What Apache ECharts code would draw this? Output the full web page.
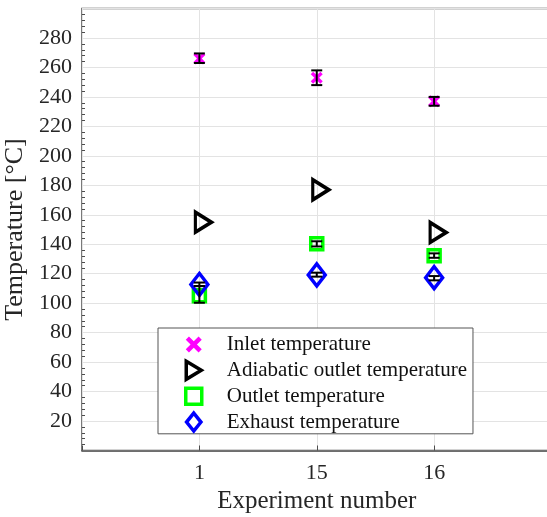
<!DOCTYPE html>
<html>
<head>
<meta charset="utf-8">
<script src="https://cdn.jsdelivr.net/npm/echarts@6/dist/echarts.min.js"></script>
<style>
  html, body { margin: 0; padding: 0; background: #fff; }
  #chart { width: 547px; height: 517px; }
</style>
</head>
<body>
<div id="chart"></div>
<script>
// experiment numbers; empty slots pad the axis on both sides
var categories = ['', '1', '15', '16', ''];
var experiments = ['1', '15', '16'];

var inletTemp = [266, 253, 237];
var inletLow = [263, 248, 234];
var inletHigh = [269.5, 258, 240];

var adiabaticTemp = [155, 177, 148];

var outletTemp = [105, 140.3, 132.2];
var outletLow = [100.3, 138.5, 130.8];
var outletHigh = [111.6, 142, 133.8];

var exhaustTemp = [112.7, 119.2, 117.3];
var exhaustLow = [111.6, 118, 115.5];
var exhaustHigh = [114, 120.7, 118.4];

var seriesNames = ['Inlet temperature', 'Adiabatic outlet temperature', 'Outlet temperature', 'Exhaust temperature'];

var font = 'Liberation Serif';
var xMark = 'path://M0,2 L2,0 L5,3 L8,0 L10,2 L7,5 L10,8 L8,10 L5,7 L2,10 L0,8 L3,5 Z';
var triRight = 'path://M0,0 L10,6 L0,12 Z';
var square = 'path://M0,0 L10,0 L10,10 L0,10 Z';
var diamond = 'path://M8,0 L16,10 L8,20 L0,10 Z';

function pts(vals) {
  return vals.map(function (v, i) { return [experiments[i], v]; });
}
function bars(lows, highs) {
  return lows.map(function (l, i) { return [experiments[i], l, highs[i]]; });
}

var errData = []
  .concat(bars(inletLow, inletHigh))
  .concat(bars(outletLow, outletHigh))
  .concat(bars(exhaustLow, exhaustHigh));

function renderErr(params, api) {
  var x = api.value(0);
  var lo = api.coord([x, api.value(1)]);
  var hi = api.coord([x, api.value(2)]);
  var cw = 5.5;
  var st = { stroke: '#000', lineWidth: 2 };
  return {
    type: 'group',
    children: [
      { type: 'line', shape: { x1: lo[0], y1: lo[1], x2: hi[0], y2: hi[1] }, style: st },
      { type: 'line', shape: { x1: lo[0] - cw, y1: lo[1], x2: lo[0] + cw, y2: lo[1] }, style: st },
      { type: 'line', shape: { x1: hi[0] - cw, y1: hi[1], x2: hi[0] + cw, y2: hi[1] }, style: st }
    ]
  };
}

var myChart = echarts.init(document.getElementById('chart'));

var option = {
  backgroundColor: '#fff',
  animation: false,
  textStyle: { fontFamily: font },
  grid: {
    left: 82,
    right: -4.5,
    top: 8.5,
    bottom: 66.5,
    outerBoundsMode: 'none',
    containLabel: false,
    show: true,
    borderColor: '#4d4d4d',
    borderWidth: 1.5
  },
  legend: {
    orient: 'vertical',
    left: 158,
    top: 328,
    data: [
      { name: seriesNames[0], icon: xMark, itemStyle: { color: '#ff00ff', borderWidth: 0, opacity: 1 } },
      { name: seriesNames[1], icon: triRight, itemStyle: { color: '#fff', borderColor: '#000', borderWidth: 3.5, opacity: 1 } },
      { name: seriesNames[2], icon: square, itemStyle: { color: '#fff', borderColor: '#00ff00', borderWidth: 3.5, opacity: 1 } },
      { name: seriesNames[3], icon: diamond, itemStyle: { color: '#fff', borderColor: '#0000ff', borderWidth: 3.5, opacity: 1 } }
    ],
    symbolKeepAspect: true,
    backgroundColor: '#fff',
    borderColor: '#555',
    borderWidth: 1,
    padding: [6, 6, 1, 26],
    itemGap: 4.6,
    itemWidth: 16,
    itemHeight: 18,
    textStyle: { fontFamily: font, fontSize: 21, lineHeight: 21, color: '#111', padding: [0, 0, 0, 20] }
  },
  xAxis: {
    type: 'category',
    data: categories,
    boundaryGap: false,
    name: 'Experiment number',
    nameLocation: 'middle',
    nameGap: 36,
    nameTextStyle: { fontFamily: font, fontSize: 25, color: '#262626' },
    axisLine: { lineStyle: { color: '#4d4d4d', width: 1.5 } },
    axisTick: { inside: true, length: 5, lineStyle: { color: '#4d4d4d' } },
    axisLabel: { fontFamily: font, fontSize: 22, color: '#262626', margin: 12 },
    splitLine: { show: true, lineStyle: { color: '#e3e3e3', width: 1 } }
  },
  yAxis: {
    type: 'value',
    min: 0,
    max: 300,
    interval: 20,
    name: 'Temperature [°C]',
    nameLocation: 'middle',
    nameGap: 43,
    nameTextStyle: { fontFamily: font, fontSize: 26, color: '#262626' },
    axisLine: { lineStyle: { color: '#4d4d4d', width: 1.5 } },
    axisTick: { inside: true, length: 5, lineStyle: { color: '#4d4d4d' } },
    minorTick: { show: true, splitNumber: 5, length: 3, lineStyle: { color: '#4d4d4d' } },
    axisLabel: {
      fontFamily: font, fontSize: 22, color: '#262626', margin: 10,
      formatter: function (v) { return (v === 0 || v === 300) ? '' : v; }
    },
    splitLine: { show: true, lineStyle: { color: '#e3e3e3', width: 1 } }
  },
  series: [
    {
      name: seriesNames[0],
      type: 'scatter',
      symbol: xMark,
      symbolSize: 12,
      itemStyle: { color: '#ff00ff', opacity: 1 },
      data: pts(inletTemp),
      z: 3
    },
    {
      name: seriesNames[1],
      type: 'scatter',
      symbol: triRight,
      symbolSize: [16, 20],
      symbolOffset: [4, 0],
      itemStyle: { color: 'rgba(0,0,0,0)', borderColor: '#000', borderWidth: 3.5, opacity: 1 },
      data: pts(adiabaticTemp),
      z: 3
    },
    {
      name: seriesNames[2],
      type: 'scatter',
      symbol: 'rect',
      symbolSize: 12,
      itemStyle: { color: 'rgba(0,0,0,0)', borderColor: '#00ff00', borderWidth: 3.5, opacity: 1 },
      data: pts(outletTemp),
      z: 3
    },
    {
      name: seriesNames[3],
      type: 'scatter',
      symbol: 'diamond',
      symbolSize: [17, 22],
      itemStyle: { color: 'rgba(0,0,0,0)', borderColor: '#0000ff', borderWidth: 3.5, opacity: 1 },
      data: pts(exhaustTemp),
      z: 3
    },
    {
      type: 'custom',
      renderItem: renderErr,
      data: errData,
      encode: { x: 0, y: [1, 2] },
      silent: true,
      z: 4
    }
  ]
};

myChart.setOption(option);
</script>
</body>
</html>
